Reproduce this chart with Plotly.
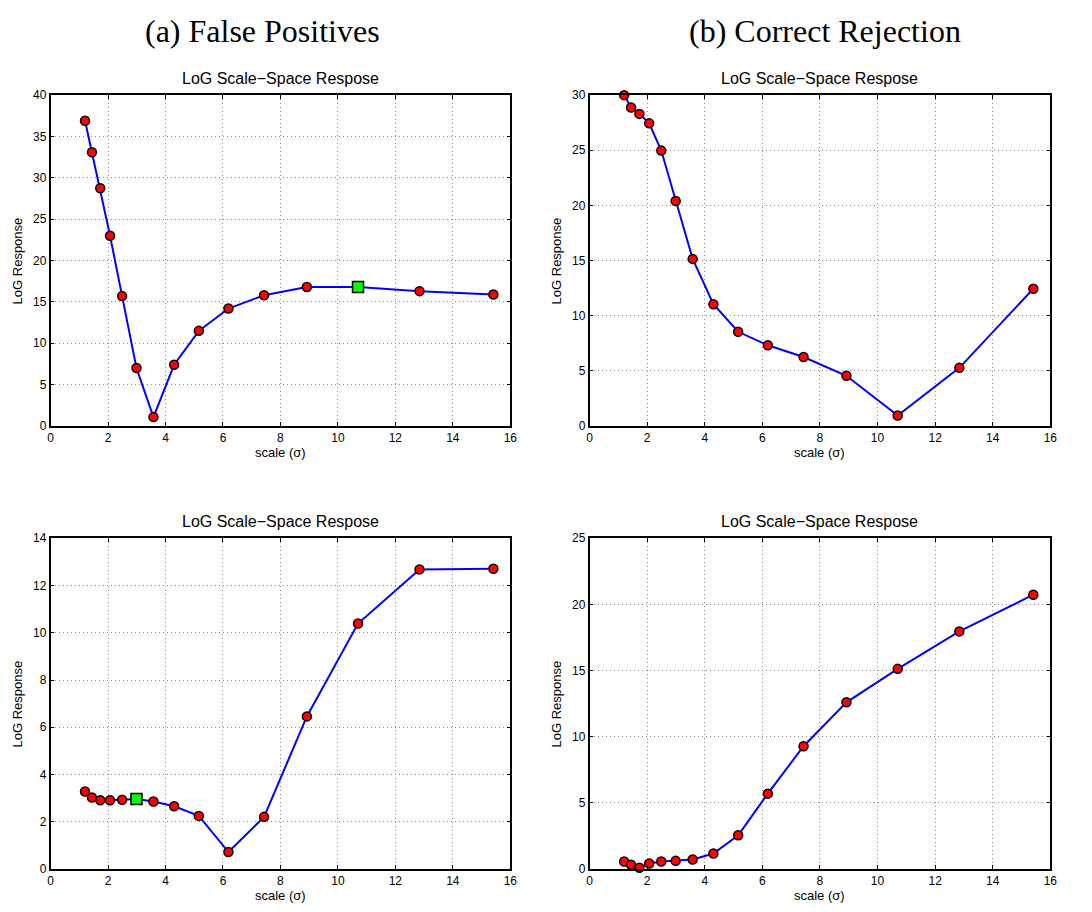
import plotly.graph_objects as go

# ---------------- data ----------------
scale = [1.20, 1.44, 1.73, 2.07, 2.49, 2.99, 3.58, 4.30, 5.16, 6.19, 7.43, 8.92, 10.70, 12.84, 15.41]

fp_top = [36.9, 33.1, 28.75, 23.0, 15.7, 7.0, 1.07, 7.4, 11.5, 14.2, 15.8, 16.8, 16.8, 16.3, 15.9]
cr_top = [30.0, 28.87, 28.3, 27.44, 24.97, 20.4, 15.15, 11.04, 8.54, 7.32, 6.25, 4.55, 0.95, 5.27, 12.44]
fp_bot = [3.28, 3.03, 2.91, 2.91, 2.93, 2.96, 2.86, 2.66, 2.25, 0.72, 2.21, 6.46, 10.39, 12.68, 12.71]
cr_bot = [0.57, 0.32, 0.10, 0.42, 0.57, 0.62, 0.72, 1.17, 2.55, 5.70, 9.28, 12.6, 15.13, 17.96, 20.73]

# index of detected peak (green square), None if absent
peak_fp_top = 12
peak_cr_top = None
peak_fp_bot = 5
peak_cr_bot = None

y_max = [40, 30, 14, 25]
y_dtick = [5, 5, 2, 5]

col_titles = ["(a) False Positives", "(b) Correct Rejection"]
sub_title = "LoG Scale\u2212Space Respose"
x_label = "scale (\u03c3)"
y_label = "LoG Response"

# ---------------- layout geometry ----------------
W, H = 1092, 912
xdom = [[48 / W, 512 / W], [592 / W, 1057 / W]]
ydom = [[1 - 425.5 / H, 1 - 89.5 / H], [1 - 875.5 / H, 1 - 539.5 / H]]

panels = [
    (fp_top, peak_fp_top, 0, 0),
    (cr_top, peak_cr_top, 1, 0),
    (fp_bot, peak_fp_bot, 0, 1),
    (cr_bot, peak_cr_bot, 1, 1),
]

fig = go.Figure()
FONT = "Liberation Sans, Arial, sans-serif"
annotations = []

for i, (vals, peak, col, row) in enumerate(panels):
    n = i + 1
    xa = "x" if n == 1 else f"x{n}"
    ya = "y" if n == 1 else f"y{n}"
    symbols = ["square" if k == peak else "circle" for k in range(len(vals))]
    colors = ["#00FF00" if k == peak else "#FF0000" for k in range(len(vals))]
    sizes = [11 if k == peak else 9 for k in range(len(vals))]
    fig.add_trace(go.Scatter(
        x=scale, y=vals, mode="lines+markers",
        line=dict(color="#0000FF", width=2),
        marker=dict(symbol=symbols, color=colors, size=sizes, opacity=1,
                    line=dict(color="black", width=1.5)),
        xaxis=xa, yaxis=ya, showlegend=False, cliponaxis=False,
    ))
    axis_common = dict(
        showline=True, linecolor="black", linewidth=1.5, mirror="ticks",
        ticks="inside", ticklen=4, tickcolor="black", tickwidth=1,
        showgrid=True, gridcolor="#8c8c8c", gridwidth=1, griddash="1px,3px",
        zeroline=False, tickfont=dict(family=FONT, size=12, color="black"),
    )
    fig.layout[f"xaxis{'' if n == 1 else n}"] = dict(
        axis_common, domain=xdom[col], range=[0, 16], dtick=2, tick0=0,
        anchor=ya,
    )
    fig.layout[f"yaxis{'' if n == 1 else n}"] = dict(
        axis_common, domain=ydom[row], range=[0, y_max[i]], dtick=y_dtick[i], tick0=0,
        anchor=xa,
    )
    xc = (xdom[col][0] + xdom[col][1]) / 2
    # subplot title
    annotations.append(dict(
        text=sub_title, x=xc, y=ydom[row][1] + 17 / H, xref="paper", yref="paper",
        xanchor="center", yanchor="middle", showarrow=False,
        font=dict(family=FONT, size=16, color="black"),
    ))
    # x label
    annotations.append(dict(
        text=x_label, x=xc, y=ydom[row][0] - 27 / H, xref="paper", yref="paper",
        xanchor="center", yanchor="middle", showarrow=False,
        font=dict(family=FONT, size=13, color="black"),
    ))
    # y label
    annotations.append(dict(
        text=y_label, x=xdom[col][0] - 33 / W, y=(ydom[row][0] + ydom[row][1]) / 2,
        xref="paper", yref="paper", xanchor="center", yanchor="middle",
        textangle=-90, showarrow=False,
        font=dict(family=FONT, size=13, color="black"),
    ))

for col in range(2):
    annotations.append(dict(
        text=col_titles[col], x=[262 / W, 830 / W][col], y=1 - 24 / H,
        xref="paper", yref="paper", xanchor="center", yanchor="middle",
        showarrow=False,
        font=dict(family="Liberation Serif, serif", size=32, color="black"),
    ))

fig.update_layout(
    width=W, height=H, margin=dict(l=0, r=0, t=0, b=0),
    paper_bgcolor="white", plot_bgcolor="white",
    annotations=annotations,
)

fig.write_html("out.html")
